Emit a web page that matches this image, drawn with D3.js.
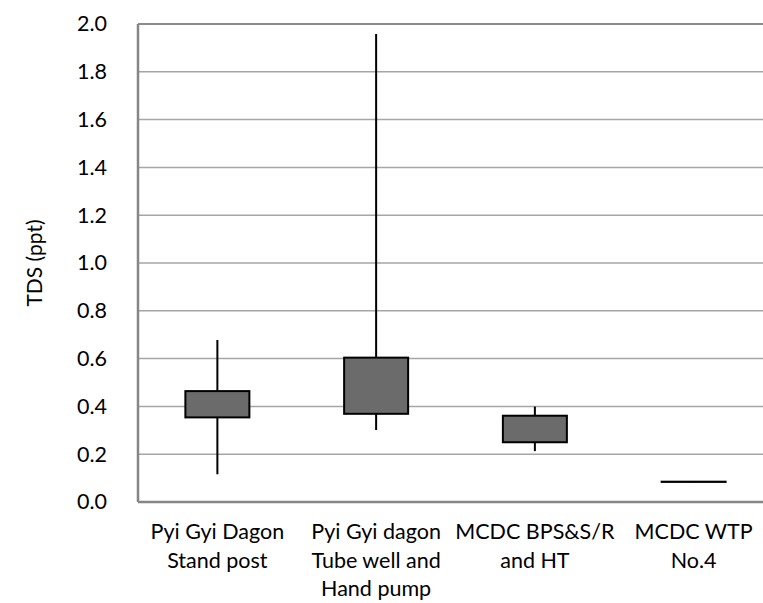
<!DOCTYPE html>
<html>
<head>
<meta charset="utf-8">
<script src="https://cdn.jsdelivr.net/npm/d3@7"></script>
<style>
  body { margin: 0; background: #fff; }
  text { font-family: Lato, "Open Sans", sans-serif; fill: #000; }
</style>
</head>
<body>
<div id="chart"></div>
<script>
// ---- data ----
var categories = [
  ["Pyi Gyi Dagon", "Stand post"],
  ["Pyi Gyi dagon", "Tube well and", "Hand pump"],
  ["MCDC BPS&S/R", "and HT"],
  ["MCDC WTP", "No.4"]
];
var minVals = [0.116, 0.301, 0.213, 0.083];
var q1Vals  = [0.354, 0.369, 0.250, 0.084];
var q3Vals  = [0.464, 0.604, 0.361, 0.085];
var maxVals = [0.678, 1.958, 0.399, 0.086];
var yTicks  = [0, 0.2, 0.4, 0.6, 0.8, 1.0, 1.2, 1.4, 1.6, 1.8, 2.0];

var W = 763, H = 603;
var margin = {top: 24, right: -10, bottom: 101, left: 138};
var width = W - margin.left - margin.right,
    height = H - margin.top - margin.bottom;

var svg = d3.select("#chart").append("svg")
  .attr("width", W).attr("height", H);
var g = svg.append("g")
  .attr("transform", "translate(" + margin.left + "," + margin.top + ")");

var x = d3.scaleBand().domain(d3.range(categories.length)).range([0, width]);
var y = d3.scaleLinear().domain([0, 2]).range([height, 0]);

// gridlines
g.selectAll(".grid").data(yTicks.slice(1)).enter().append("line")
  .attr("x1", 0).attr("x2", width)
  .attr("y1", function(d) { return y(d); }).attr("y2", function(d) { return y(d); })
  .style("stroke", function(d) { return d === 2 ? "#8c8c8c" : "#a6a6a6"; })
  .style("stroke-width", function(d) { return d === 2 ? 2 : 1.5; });

// y axis
var yAxis = g.append("g").call(d3.axisLeft(y).tickValues(yTicks)
  .tickFormat(d3.format(".1f")).tickSize(0).tickPadding(31));
yAxis.select(".domain").remove();
yAxis.selectAll("text").style("font-size", "21.5px");
g.append("line").attr("x1", 0).attr("x2", 0).attr("y1", 0).attr("y2", height)
  .style("stroke", "#868686").style("stroke-width", 2.5);
g.append("line").attr("x1", 0).attr("x2", width).attr("y1", height).attr("y2", height)
  .style("stroke", "#868686").style("stroke-width", 2.5);

// y title
svg.append("text")
  .attr("transform", "translate(42," + (margin.top + height / 2) + ") rotate(-90)")
  .attr("text-anchor", "middle").style("font-size", "21px")
  .text("TDS (ppt)");

// boxes
var boxW = 64;
var box = g.selectAll(".box").data(d3.range(categories.length)).enter().append("g");
box.append("line")
  .attr("x1", function(i) { return x(i) + x.bandwidth() / 2; })
  .attr("x2", function(i) { return x(i) + x.bandwidth() / 2; })
  .attr("y1", function(i) { return y(maxVals[i]); })
  .attr("y2", function(i) { return y(minVals[i]); })
  .style("stroke", "#000").style("stroke-width", 2);
box.append("rect")
  .attr("x", function(i) { return x(i) + x.bandwidth() / 2 - boxW / 2; })
  .attr("width", boxW)
  .attr("y", function(i) { return y(q3Vals[i]); })
  .attr("height", function(i) { return y(q1Vals[i]) - y(q3Vals[i]); })
  .style("fill", "#6b6b6b").style("stroke", "#000").style("stroke-width", 2);

// x labels
var lab = g.selectAll(".xlab").data(categories).enter().append("text")
  .attr("text-anchor", "middle")
  .attr("transform", function(d, i) {
    return "translate(" + (x(i) + x.bandwidth() / 2) + "," + (height + 37) + ")";
  })
  .style("font-size", "21.5px");
lab.selectAll("tspan").data(function(d) { return d; }).enter().append("tspan")
  .attr("x", 0).attr("dy", function(d, j) { return j === 0 ? 0 : 28.5; })
  .text(function(d) { return d; });
</script>
</body>
</html>
